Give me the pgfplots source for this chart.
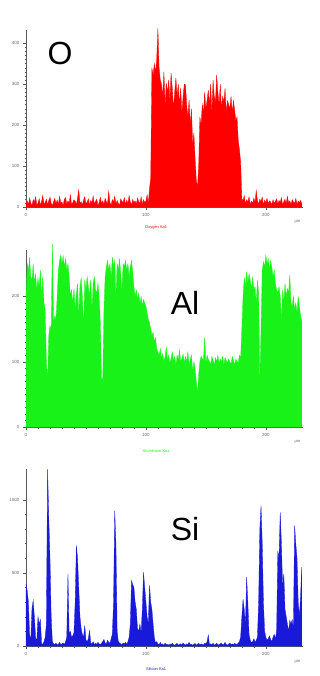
\documentclass[border=0pt]{standalone}
\usepackage{fontspec}
\setmainfont{Liberation Sans}
\usepackage{pgfplots}
\usepackage{pgfplotstable}
\pgfplotsset{compat=1.18}
\definecolor{ored}{rgb}{1,0,0}
\definecolor{agreen}{rgb}{0.1,0.95,0.1}
\definecolor{sblue}{rgb}{0.1,0.1,0.85}
\pgfplotstableread{
x O Al Si
0 8 200 425
1 15 250 380
2 5 240 300
3 22 260 80
4 10 230 40
5 3 225 260
6 18 250 311
7 12 220 200
8 25 235 60
9 6 210 30
10 9 228 200
11 20 215 150
12 4 240 180
13 14 200 20
14 28 230 10
15 7 190 30
16 11 180 60
17 19 100 150
18 5 71 1209
19 16 140 880
20 24 155 600
21 9 150 200
22 3 280 30
23 13 160 15
24 21 170 10
25 8 165 20
26 17 200 8
27 6 240 12
28 26 255 25
29 10 263 10
30 12 250 15
31 4 262 20
32 19 245 10
33 23 258 30
34 7 240 60
35 15 250 493
36 9 230 80
37 30 200 100
38 5 210 60
39 11 190 70
40 18 212 90
41 14 180 300
42 6 205 686
43 22 220 600
44 42 170 400
45 9 215 200
46 13 228 120
47 5 200 80
48 17 150 60
49 25 225 140
50 8 210 40
51 12 230 30
52 20 215 50
53 4 200 107
54 16 225 20
55 10 180 15
56 27 220 30
57 7 230 10
58 14 210 20
59 19 205 12
60 3 220 25
61 11 200 15
62 24 160 10
63 9 71 20
64 15 76 30
65 6 180 45
66 21 230 20
67 13 245 15
68 8 255 40
69 38 240 25
70 10 250 20
71 5 230 50
72 18 260 80
73 12 245 300
74 26 255 925
75 7 200 700
76 16 250 100
77 9 240 30
78 4 258 20
79 20 235 15
80 14 210 10
81 11 250 20
82 23 245 15
83 6 255 25
84 17 240 10
85 8 250 30
86 28 230 60
87 12 245 150
88 5 255 448
89 19 238 420
90 10 215 400
91 15 200 300
92 7 210 250
93 22 195 120
94 13 205 100
95 9 190 150
96 25 200 90
97 6 185 250
98 18 195 505
99 11 190 400
100 14 185 300
101 30 175 200
102 8 165 150
103 45 160 414
104 70 150 300
105 340 140 250
106 320 145 150
107 350 130 60
108 330 137 20
109 360 120 30
110 436 115 15
111 340 110 10
112 310 120 25
113 300 105 8
114 270 112 15
115 330 100 5
116 250 108 20
117 302 122 10
118 280 102 12
119 310 110 6
120 260 98 15
121 327 105 8
122 290 115 20
123 240 100 10
124 280 108 5
125 315 95 12
126 270 110 18
127 300 103 6
128 250 118 10
129 290 100 15
130 230 105 8
131 270 112 20
132 300 98 12
133 298 108 5
134 250 100 15
135 220 115 10
136 261 95 25
137 200 104 8
138 240 110 12
139 150 85 6
140 180 100 10
141 120 90 18
142 66 70 5
143 48 50 12
144 100 80 20
145 220 100 8
146 200 108 15
147 250 105 10
148 230 102 6
149 280 137 20
150 240 98 12
151 260 110 30
152 285 104 75
153 250 100 10
154 300 96 15
155 230 108 8
156 310 102 20
157 270 95 5
158 256 106 12
159 322 100 18
160 280 110 10
161 250 97 6
162 300 104 15
163 240 100 20
164 270 108 8
165 256 95 12
166 290 106 25
167 230 102 10
168 260 98 5
169 250 104 15
170 240 100 20
171 270 96 10
172 230 108 15
173 260 102 8
174 237 95 18
175 210 104 12
176 220 100 10
177 163 98 20
178 140 110 30
179 110 105 60
180 20 150 200
181 15 200 320
182 28 228 250
183 8 215 150
184 18 238 470
185 12 220 300
186 25 235 80
187 6 225 40
188 14 210 20
189 9 230 30
190 22 210 50
191 11 215 25
192 40 190 40
193 16 225 60
194 7 205 300
195 19 71 800
196 13 150 959
197 24 240 700
198 5 253 300
199 17 245 100
200 10 263 60
201 21 250 40
202 8 258 50
203 15 240 70
204 12 255 45
205 6 245 30
206 18 230 60
207 9 240 80
208 14 220 50
209 20 210 100
210 7 205 650
211 16 215 600
212 11 200 913
213 23 162 700
214 5 210 400
215 13 190 493
216 19 220 250
217 8 200 200
218 26 212 150
219 10 205 100
220 15 233 175
221 6 190 150
222 18 185 180
223 12 200 120
224 9 180 823
225 21 190 700
226 7 175 600
227 14 200 300
228 11 185 200
229 16 170 350
230 8 162 540
}\datatable
\pgfplotsset{
  panel/.style={
    scale only axis, width=277pt, height=177pt,
    xmin=0, xmax=231, ymin=0,
    axis lines*=left,
    axis line style={draw=black!65, line width=0.4pt},
    tick style={draw=black!65, line width=0.3pt},
    tick align=outside,
    major tick length=3pt, minor tick length=1.5pt,
    xtick={0,100,200}, minor x tick num=9,
    minor y tick num=9,
    tick label style={font=\fontsize{4.5}{4.5}\selectfont, text=black!60},
    /pgf/number format/assume math mode=true,
    /pgf/number format/1000 sep={},
    clip=false,
  },
}
\begin{document}
\begin{tikzpicture}
\path[use as bounding box] (0,0) rectangle (320pt,-676pt);
% Oxygen
\begin{axis}[panel, at={(26pt,-207pt)}, anchor=south west, ymax=432, ytick={0,100,200,300,400}]
\addplot[fill=ored, draw=ored, line width=0.3pt] table[x=x, y=O] {\datatable} \closedcycle;
\node[font=\fontsize{32}{32}\selectfont] at (rel axis cs:0.123,0.87) {O};
\node[font=\fontsize{4}{4}\selectfont, text=ored] at (rel axis cs:0.47,0) [yshift=-21pt] {Oxygen Ka1};
\node[font=\fontsize{4}{4}\selectfont, text=black!60] at (rel axis cs:0.98,0) [yshift=-15pt] {µm};
\end{axis}
% Aluminium
\begin{axis}[panel, at={(26pt,-427pt)}, anchor=south west, ymax=271, ytick={0,100,200}]
\addplot[fill=agreen, draw=agreen, line width=0.3pt] table[x=x, y=Al] {\datatable} \closedcycle;
\node[font=\fontsize{32}{32}\selectfont] at (rel axis cs:0.574,0.70) {Al};
\node[font=\fontsize{4}{4}\selectfont, text=agreen] at (rel axis cs:0.47,0) [yshift=-24pt] {Aluminium Ka1};
\node[font=\fontsize{4}{4}\selectfont, text=black!60] at (rel axis cs:0.98,0) [yshift=-15pt] {µm};
\end{axis}
% Silicon
\begin{axis}[panel, at={(26pt,-646pt)}, anchor=south west, ymax=1210, ytick={0,500,1000}, minor y tick num=4]
\addplot[fill=sblue, draw=sblue, line width=0.3pt] table[x=x, y=Si] {\datatable} \closedcycle;
\node[font=\fontsize{32}{32}\selectfont] at (rel axis cs:0.574,0.663) {Si};
\node[font=\fontsize{4}{4}\selectfont, text=sblue] at (rel axis cs:0.47,0) [yshift=-23pt] {Silicon Ka1};
\node[font=\fontsize{4}{4}\selectfont, text=black!60] at (rel axis cs:0.98,0) [yshift=-16pt] {µm};
\end{axis}
\end{tikzpicture}
\end{document}
